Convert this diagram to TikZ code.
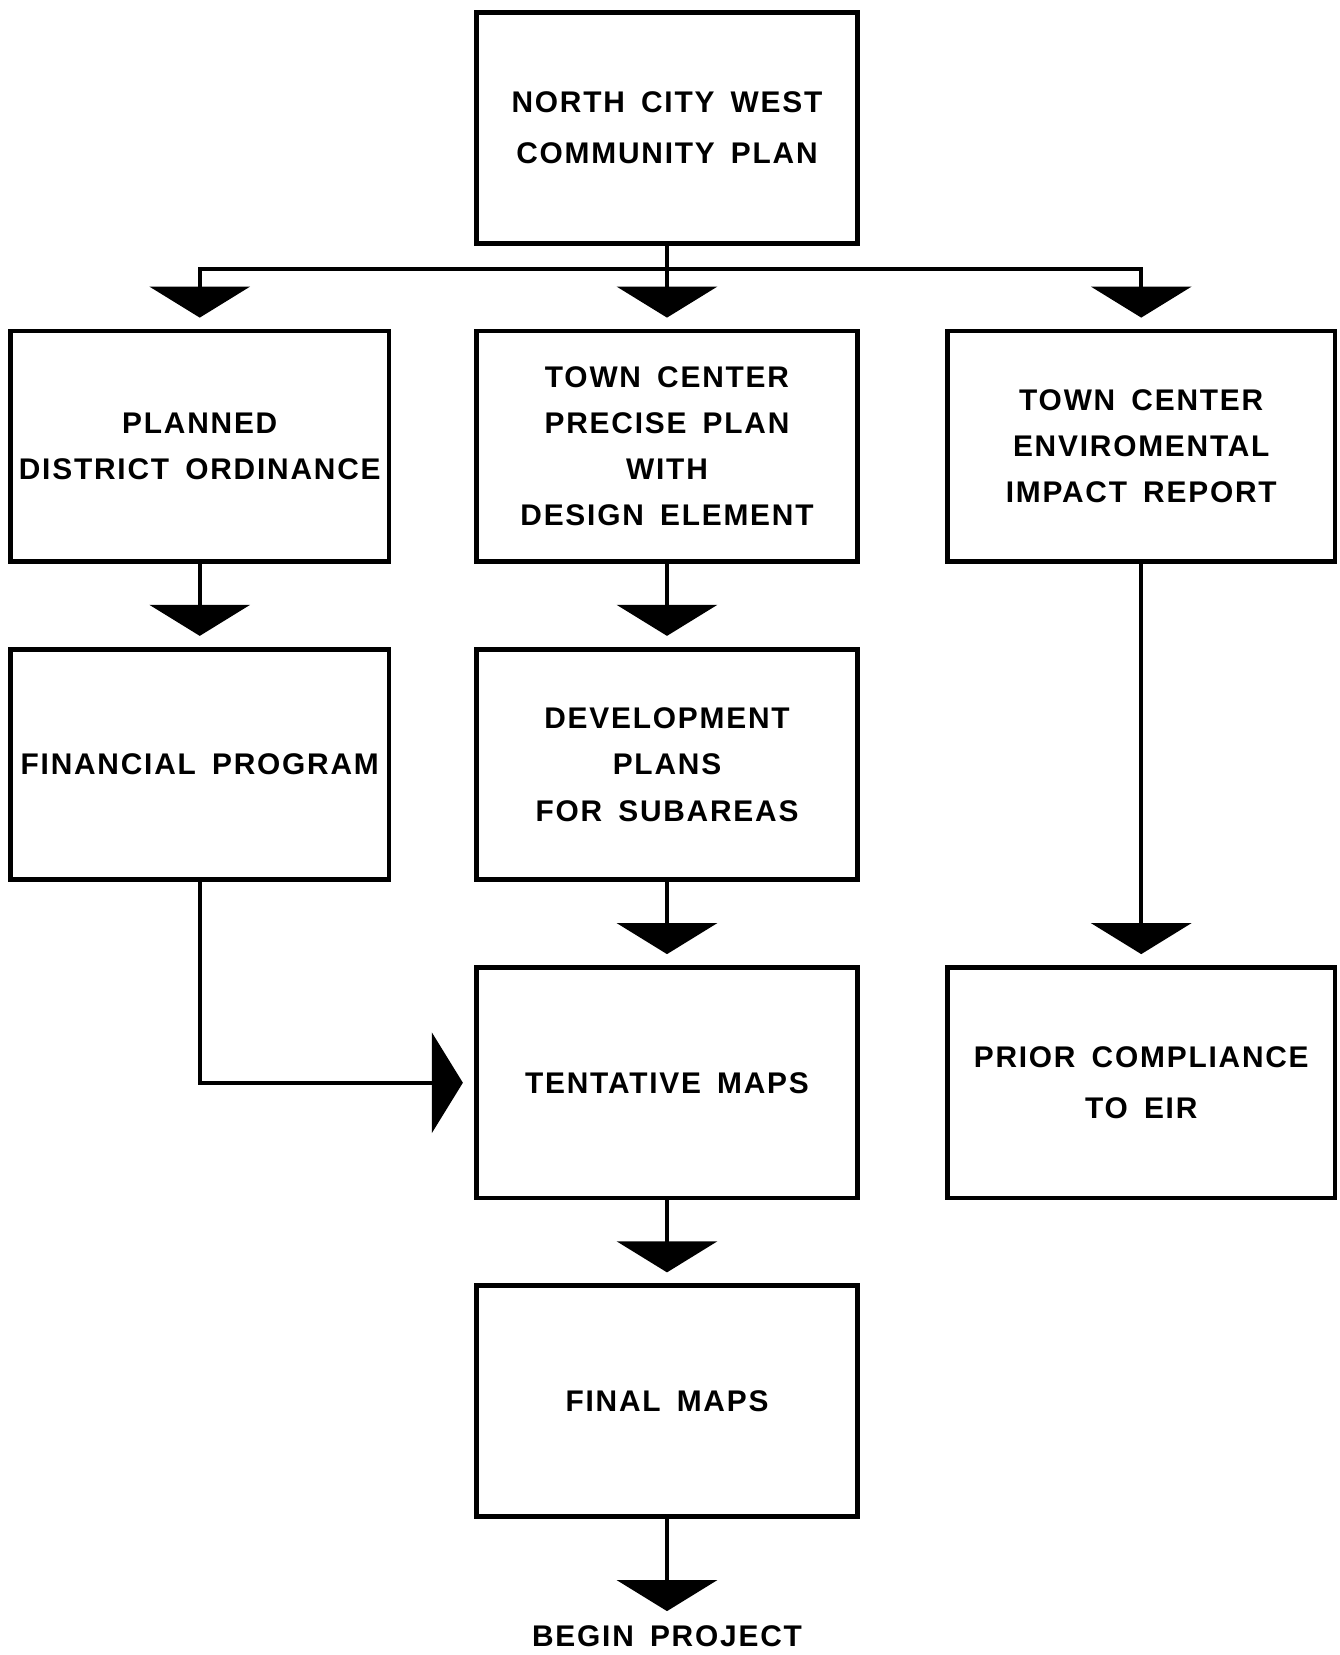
\documentclass[tikz,border=0pt]{standalone}
\usepackage{fontspec}
\usetikzlibrary{arrows.meta, positioning}
\newfontfamily\planfont{Liberation Sans}[LetterSpace=6, WordSpace=1.6]

\begin{document}
\begin{tikzpicture}[
        planBox/.style={rectangle, draw=black, line width=2.7pt, minimum width=7.63cm, minimum height=4.61cm, align=center, inner sep=0pt, font=\planfont\bfseries\fontsize{17}{26.3}\selectfont},
        flowLine/.style={line width=2.2pt, -{Triangle[width=2cm, length=0.62cm]}, shorten >=0.22cm}
    ]
        \useasboundingbox (0,0) rectangle (26.78,-33.1);

        \node[planBox] (ncw) at (13.34,-2.56) {NORTH CITY WEST\\[2.5pt]COMMUNITY PLAN};

        \node[planBox, below=1.66cm of ncw] (tcpp) {TOWN CENTER\\PRECISE PLAN\\WITH\\DESIGN ELEMENT};
        \node[planBox, left=1.65cm of tcpp, minimum width=7.57cm] (pdo) {PLANNED\\DISTRICT ORDINANCE};
        \node[planBox, right=1.7cm of tcpp, minimum width=7.75cm] (tceir) {TOWN CENTER\\ENVIROMENTAL\\IMPACT REPORT};

        \node[planBox, below=1.66cm of pdo, minimum width=7.57cm] (fp) {FINANCIAL PROGRAM};
        \node[planBox, below=1.66cm of tcpp] (dp) {DEVELOPMENT\\PLANS\\FOR SUBAREAS};

        \node[planBox, below=1.66cm of dp] (tm) {TENTATIVE MAPS};
        \node[planBox, right=1.7cm of tm, minimum width=7.75cm] (pc) {PRIOR COMPLIANCE\\[2.5pt]TO EIR};

        \node[planBox, below=1.66cm of tm] (fm) {FINAL MAPS};
        \node[below=2.13cm of fm, inner sep=0pt, font=\planfont\bfseries\fontsize{17}{26.3}\selectfont] (begin) {BEGIN PROJECT};

        % branching below the community plan
        \coordinate[below=0.46cm of ncw.south] (split);
        \draw[line width=2.2pt] (ncw) -- (split);
        \draw[flowLine] (split) -| (pdo);
        \draw[flowLine] (split) -- (tcpp);
        \draw[flowLine] (split) -| (tceir);

        \draw[flowLine] (pdo) -- (fp);
        \draw[flowLine] (tcpp) -- (dp);
        \draw[flowLine] (dp) -- (tm);
        \draw[flowLine] (tceir) -- (pc);
        \draw[flowLine] (fp) |- (tm);
        \draw[flowLine] (tm) -- (fm);
        \draw[flowLine, shorten >=0.28cm] (fm) -- (begin);
    \end{tikzpicture}
\end{document}
